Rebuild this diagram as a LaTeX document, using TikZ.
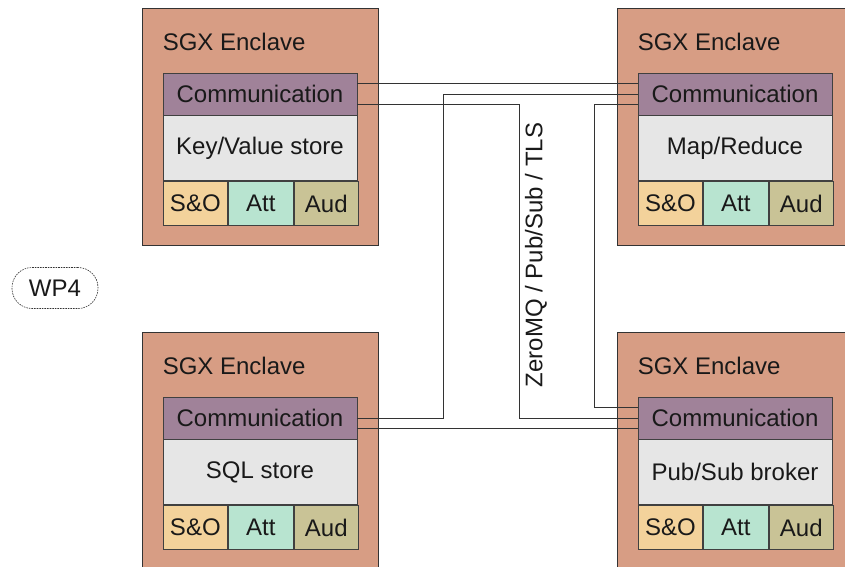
\documentclass[tikz,border=0pt]{standalone}
\usepackage{fontspec}
\setmainfont{Liberation Sans}
\usetikzlibrary{positioning,calc}
\usepackage{xcolor}

\definecolor{enclavefill}{HTML}{D79D84}
\definecolor{commfill}{HTML}{A08299}
\definecolor{storefill}{HTML}{E6E6E6}
\definecolor{sofill}{HTML}{F3D29B}
\definecolor{attfill}{HTML}{B8E4D0}
\definecolor{audfill}{HTML}{C9C396}

\begin{document}
\begin{tikzpicture}[x=1pt,y=1pt,
every node/.style={font=\fontsize{24}{28}\selectfont,inner sep=0pt,text=black!90},
enclave/.style={draw=black!80,fill=enclavefill,line width=0.8pt,minimum width=236pt,minimum height=237pt},
title/.style={anchor=west},
comm/.style={draw=black!75,fill=commfill,line width=0.8pt,minimum width=194pt,minimum height=42pt},
store/.style={draw=black!75,fill=storefill,line width=0.8pt,minimum width=194pt,minimum height=65pt},
cell/.style={draw=black!75,line width=0.8pt,minimum width=64.67pt,minimum height=44pt},
wire/.style={draw=black!80,line width=0.9pt},
wp/.style={draw=black!80,line width=0.6pt,dash pattern=on 1.6pt off 1pt,rounded corners=20pt,minimum width=86pt,minimum height=41pt}]
\clip (0,0) rectangle (845,566);

% key/value enclave
\node[enclave] (kv) at (260,439.5) {};
\node[title] (kvtitle) at ($(kv.north west)+(21,-34)$) {SGX Enclave};
\node[comm,below right=65pt and 21pt of kv.north west] (kvcomm) {Communication};
\node[store,below=0pt of kvcomm] (kvstore) {Key/Value store};
\node[cell,fill=sofill,below right=0pt and 0pt of kvstore.south west] (kvso) {S\&O};
\node[cell,fill=attfill,right=0pt of kvso] (kvatt) {Att};
\node[cell,fill=audfill,right=0pt of kvatt] (kvaud) {Aud};

% map/reduce enclave
\node[enclave] (mr) at (735,439.5) {};
\node[title] (mrtitle) at ($(mr.north west)+(21,-34)$) {SGX Enclave};
\node[comm,below right=65pt and 21pt of mr.north west] (mrcomm) {Communication};
\node[store,below=0pt of mrcomm] (mrstore) {Map/Reduce};
\node[cell,fill=sofill,below right=0pt and 0pt of mrstore.south west] (mrso) {S\&O};
\node[cell,fill=attfill,right=0pt of mrso] (mratt) {Att};
\node[cell,fill=audfill,right=0pt of mratt] (mraud) {Aud};

% sql enclave
\node[enclave] (sql) at (260,115.5) {};
\node[title] (sqltitle) at ($(sql.north west)+(21,-34)$) {SGX Enclave};
\node[comm,below right=65pt and 21pt of sql.north west] (sqlcomm) {Communication};
\node[store,below=0pt of sqlcomm] (sqlstore) {SQL store};
\node[cell,fill=sofill,below right=0pt and 0pt of sqlstore.south west] (sqlso) {S\&O};
\node[cell,fill=attfill,right=0pt of sqlso] (sqlatt) {Att};
\node[cell,fill=audfill,right=0pt of sqlatt] (sqlaud) {Aud};

% broker enclave
\node[enclave] (ps) at (735,115.5) {};
\node[title] (pstitle) at ($(ps.north west)+(21,-34)$) {SGX Enclave};
\node[comm,below right=65pt and 21pt of ps.north west] (pscomm) {Communication};
\node[store,below=0pt of pscomm] (psstore) {Pub/Sub broker};
\node[cell,fill=sofill,below right=0pt and 0pt of psstore.south west] (psso) {S\&O};
\node[cell,fill=attfill,right=0pt of psso] (psatt) {Att};
\node[cell,fill=audfill,right=0pt of psatt] (psaud) {Aud};

\node[wp] (wp4) at (55,278) {WP4};
\node[rotate=90] (proto) at (536,311) {ZeroMQ / Pub/Sub / TLS};

% links between the communication layers
\draw[wire] ([yshift=10.5pt]kvcomm.east) -- ([yshift=10.5pt]mrcomm.west);
\draw[wire] ([yshift=-10.5pt]kvcomm.east) -| ([xshift=-118pt]pscomm.west) -- (pscomm.west);
\draw[wire] (sqlcomm.east) -| ([xshift=-194pt]mrcomm.west) -- (mrcomm.west);
\draw[wire] ([yshift=-10.5pt]mrcomm.west) -- ++(-43pt,0) |- ([yshift=10.5pt]pscomm.west);
\draw[wire] ([yshift=-10.5pt]sqlcomm.east) -- ([yshift=-10.5pt]pscomm.west);
\end{tikzpicture}
\end{document}
